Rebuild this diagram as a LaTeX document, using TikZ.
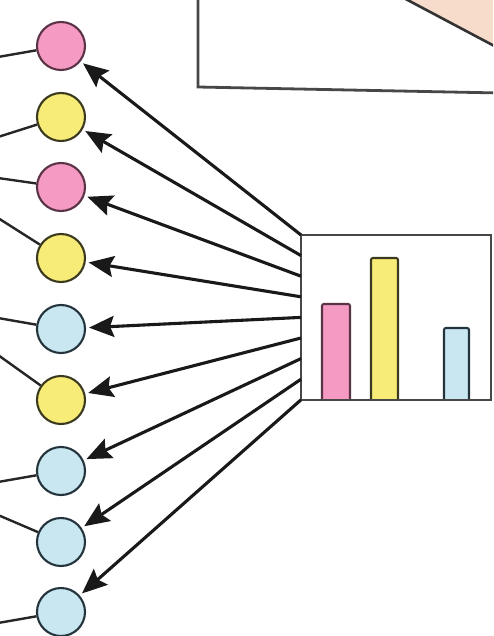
\documentclass[tikz,border=0pt]{standalone}
\usetikzlibrary{arrows.meta}
\definecolor{pinkfill}{HTML}{F59BC3}
\definecolor{yellowfill}{HTML}{F7EC78}
\definecolor{bluefill}{HTML}{C8E7F1}
\definecolor{peach}{HTML}{F7DCCB}
\definecolor{pinkedge}{HTML}{5A3346}
\definecolor{yellowedge}{HTML}{3C3A1E}
\definecolor{blueedge}{HTML}{24343C}
\begin{document}
\begin{tikzpicture}[x=1pt,y=-1pt,
  dot/.style={circle, minimum size=48pt, inner sep=0pt, line width=2.1pt},
  pinkdot/.style={dot, fill=pinkfill, draw=pinkedge},
  yellowdot/.style={dot, fill=yellowfill, draw=yellowedge},
  bluedot/.style={dot, fill=bluefill, draw=blueedge},
  feed/.style={line width=2.4pt, draw=black!85},
  link/.style={line width=3.1pt, draw=black!90,
    -{Stealth[length=25pt,width=21pt,inset=4pt]}, shorten >=3pt},
  frame/.style={line width=2.8pt, draw=black!72},
  bar/.style={line width=2.1pt, rounded corners=2pt}]
\useasboundingbox (0,0) rectangle (493,636);
\fill[white] (0,0) rectangle (493,636);
\clip (0,0) rectangle (493,636);

% upper panel with its shaded wedge
\fill[peach] (400,-4) -- (500,49) -- (500,-4) -- cycle;
\draw[line width=2.6pt, black!80] (400,-4) -- (500,49);
\draw[frame] (198,-5) -- (198,87) -- (500,93);

% bar chart
\draw[frame] (301,235) rectangle (491,400);
\draw[bar, fill=pinkfill, draw=pinkedge] (322,400) -- (322,304) -- (350,304) -- (350,400);
\draw[bar, fill=yellowfill, draw=yellowedge] (371,400) -- (371,258) -- (398,258) -- (398,400);
\draw[bar, fill=bluefill, draw=blueedge] (444,400) -- (444,328) -- (469,328) -- (469,400);
\draw[frame] (301,400) -- (491,400);

% column of units
\foreach \i/\y/\sty in {1/46/pinkdot, 2/117/yellowdot, 3/187/pinkdot,
    4/258/yellowdot, 5/329/bluedot, 6/400/yellowdot, 7/471/bluedot,
    8/542/bluedot, 9/612/bluedot}
  \node[\sty] (c\i) at (61,\y) {};

% incoming lines from the left
\foreach \i/\y in {1/57, 2/137, 3/178, 4/218, 5/318, 6/355, 7/482, 8/515, 9/623} {
  \coordinate (l\i) at (-2,\y);
  \draw[feed] (l\i) -- (c\i);
}

% arrows from the chart to each unit
\foreach \i in {1,...,9} {
  \coordinate (s\i) at (301,{235+20.6*(\i-1)});
  \draw[link] (s\i) -- (c\i);
}
\end{tikzpicture}
\end{document}
